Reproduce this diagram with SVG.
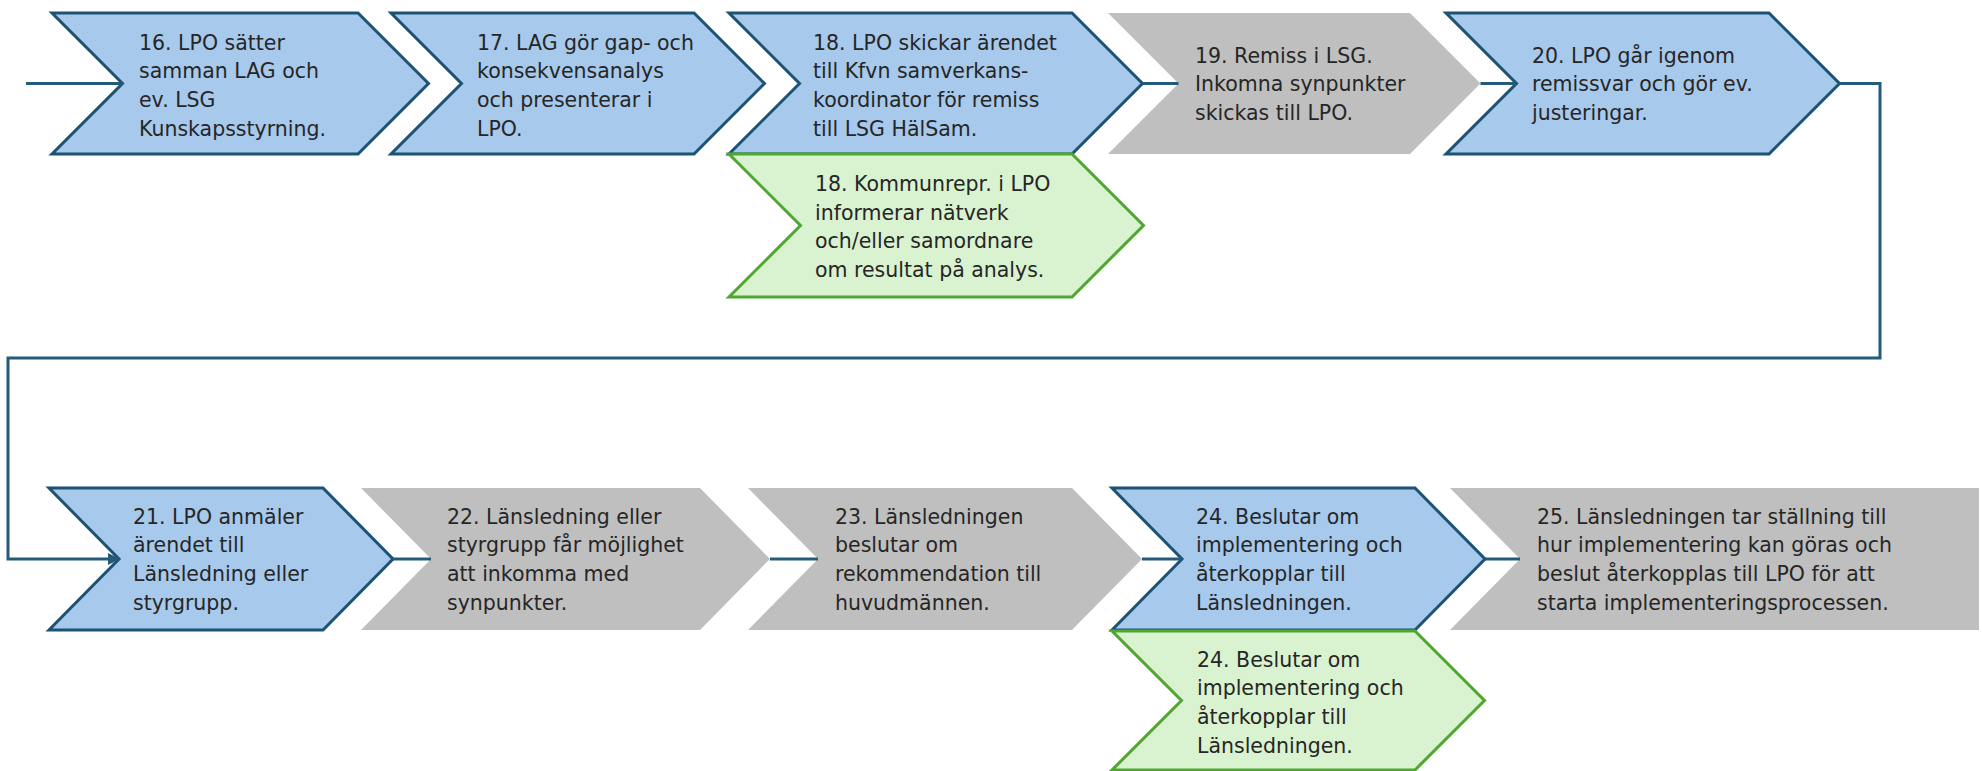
<svg xmlns="http://www.w3.org/2000/svg" width="1982" height="771" viewBox="0 0 1982 771">
  <style>
    .blue { fill: #A6C9EC; stroke: #1C5273; stroke-width: 3; stroke-linejoin: miter; }
    .green { fill: #D9F2D0; stroke: #4EA72E; stroke-width: 3; stroke-linejoin: miter; }
    .gray { fill: #BFBFBF; stroke: none; }
    .lbl { font-family: "DejaVu Sans", "Liberation Sans", sans-serif; font-size: 20.5px; fill: #262626; }
    .conn { fill: none; stroke: #245B7A; stroke-width: 3; }
  </style>
  <defs>
    <marker id="arrow" markerUnits="userSpaceOnUse" markerWidth="12" markerHeight="13" viewBox="0 0 12 13" refX="11" refY="6.5" orient="auto">
      <path d="M0,0.5 L12,6.5 L0,12.5 Z" fill="#245B7A"/>
    </marker>
  </defs>
  <rect width="1982" height="771" fill="#FFFFFF"/>

  <g id="n16">
    <path class="blue" d="M52,13 H358 L428.5,83.5 L358,154 H52 L122.5,83.5 Z"/>
    <text class="lbl" x="139"><tspan x="139" y="49.5">16. LPO sätter</tspan><tspan x="139" y="78.2">samman LAG och</tspan><tspan x="139" y="106.9">ev. LSG</tspan><tspan x="139" y="135.6">Kunskapsstyrning.</tspan></text>
  </g>
  <g id="n17">
    <path class="blue" d="M391,13 H694 L764.5,83.5 L694,154 H391 L461.5,83.5 Z"/>
    <text class="lbl"><tspan x="477" y="49.5">17. LAG gör gap- och</tspan><tspan x="477" y="78.2">konsekvensanalys</tspan><tspan x="477" y="106.9">och presenterar i</tspan><tspan x="477" y="135.6">LPO.</tspan></text>
  </g>
  <g id="n18">
    <path class="blue" d="M729,13 H1072 L1142.5,83.5 L1072,154 H729 L799.5,83.5 Z"/>
    <text class="lbl"><tspan x="813" y="49.5">18. LPO skickar ärendet</tspan><tspan x="813" y="78.2">till Kfvn samverkans-</tspan><tspan x="813" y="106.9">koordinator för remiss</tspan><tspan x="813" y="135.6">till LSG HälSam.</tspan></text>
  </g>
  <g id="n18b">
    <path class="green" d="M729,154 H1072 L1143.5,225.5 L1072,297 H729 L800.5,225.5 Z"/>
    <text class="lbl"><tspan x="815" y="191">18. Kommunrepr. i LPO</tspan><tspan x="815" y="219.7">informerar nätverk</tspan><tspan x="815" y="248.4">och/eller samordnare</tspan><tspan x="815" y="277.1">om resultat på analys.</tspan></text>
  </g>
  <g id="n19">
    <path class="gray" d="M1108,13 H1410 L1480.5,83.5 L1410,154 H1108 L1178.5,83.5 Z"/>
    <text class="lbl"><tspan x="1195" y="62.5">19. Remiss i LSG.</tspan><tspan x="1195" y="91.2">Inkomna synpunkter</tspan><tspan x="1195" y="119.9">skickas till LPO.</tspan></text>
  </g>
  <g id="n20">
    <path class="blue" d="M1446,13 H1769 L1839.5,83.5 L1769,154 H1446 L1516.5,83.5 Z"/>
    <text class="lbl"><tspan x="1532" y="62.5">20. LPO går igenom</tspan><tspan x="1532" y="91.2">remissvar och gör ev.</tspan><tspan x="1532" y="119.9">justeringar.</tspan></text>
  </g>

  <g id="n21">
    <path class="blue" d="M49,488 H323 L393,559 L323,630 H49 L119,559 Z"/>
    <text class="lbl"><tspan x="133" y="523.5">21. LPO anmäler</tspan><tspan x="133" y="552.2">ärendet till</tspan><tspan x="133" y="580.9">Länsledning eller</tspan><tspan x="133" y="609.6">styrgrupp.</tspan></text>
  </g>
  <g id="n22">
    <path class="gray" d="M361,488 H700 L770,559 L700,630 H361 L431,559 Z"/>
    <text class="lbl"><tspan x="447" y="523.5">22. Länsledning eller</tspan><tspan x="447" y="552.2">styrgrupp får möjlighet</tspan><tspan x="447" y="580.9">att inkomma med</tspan><tspan x="447" y="609.6">synpunkter.</tspan></text>
  </g>
  <g id="n23">
    <path class="gray" d="M748,488 H1072 L1142,559 L1072,630 H748 L818,559 Z"/>
    <text class="lbl"><tspan x="835" y="523.5">23. Länsledningen</tspan><tspan x="835" y="552.2">beslutar om</tspan><tspan x="835" y="580.9">rekommendation till</tspan><tspan x="835" y="609.6">huvudmännen.</tspan></text>
  </g>
  <g id="n24">
    <path class="blue" d="M1112,488 H1415 L1485,559 L1415,630 H1112 L1182,559 Z"/>
    <text class="lbl"><tspan x="1196" y="523.5">24. Beslutar om</tspan><tspan x="1196" y="552.2">implementering och</tspan><tspan x="1196" y="580.9">återkopplar till</tspan><tspan x="1196" y="609.6">Länsledningen.</tspan></text>
  </g>
  <g id="n24b">
    <path class="green" d="M1112,631 H1415 L1484.5,700.5 L1415,770 H1112 L1181.5,700.5 Z"/>
    <text class="lbl"><tspan x="1197" y="666.7">24. Beslutar om</tspan><tspan x="1197" y="695.4">implementering och</tspan><tspan x="1197" y="724.1">återkopplar till</tspan><tspan x="1197" y="752.8">Länsledningen.</tspan></text>
  </g>
  <g id="n25">
    <path class="gray" d="M1450,488 H1979 V630 H1450 L1520,559 Z"/>
    <text class="lbl"><tspan x="1537" y="523.5">25. Länsledningen tar ställning till</tspan><tspan x="1537" y="552.2">hur implementering kan göras och</tspan><tspan x="1537" y="580.9">beslut återkopplas till LPO för att</tspan><tspan x="1537" y="609.6">starta implementeringsprocessen.</tspan></text>
  </g>

  <g id="connectors">
    <path class="conn" d="M26,83.5 H122.5"/>
    <path class="conn" d="M1142.5,83.5 H1178.5"/>
    <path class="conn" d="M1480.5,83.5 H1516.5"/>
    <path class="conn" d="M1839.5,83.5 H1880 V358 H8 V559 H119" marker-end="url(#arrow)"/>
    <path class="conn" d="M393,559 H431"/>
    <path class="conn" d="M770,559 H818"/>
    <path class="conn" d="M1142,559 H1182"/>
    <path class="conn" d="M1485,559 H1520"/>
  </g>
</svg>
